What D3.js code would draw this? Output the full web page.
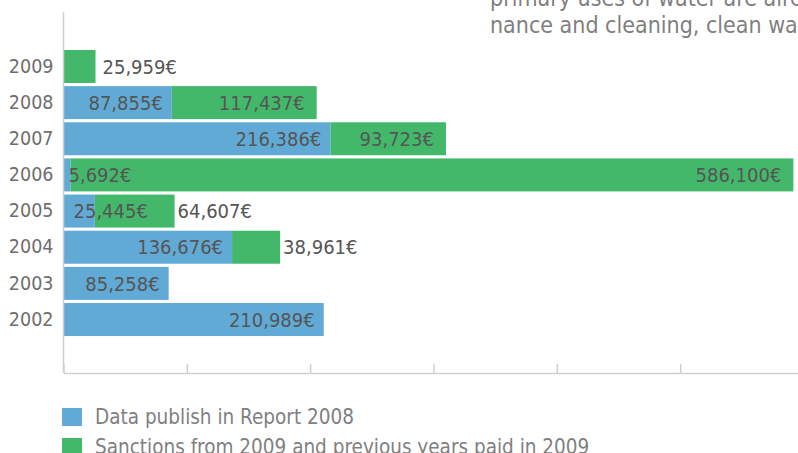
<!DOCTYPE html>
<html>
<head>
<meta charset="utf-8">
<script src="https://cdn.jsdelivr.net/npm/d3@7"></script>
<style>
  html, body { margin: 0; padding: 0; background: #fff; }
  svg { display: block; font-family: "DejaVu Sans Condensed", "DejaVu Sans", sans-serif; }
</style>
</head>
<body>
<svg id="chart" width="798" height="453"></svg>
<script>
// Fines by year (€)
const years = ["2009", "2008", "2007", "2006", "2005", "2004", "2003", "2002"];
const reported = [0, 87855, 216386, 5692, 25445, 136676, 85258, 210989];
const paid2009 = [25959, 117437, 93723, 586100, 64607, 38961, 0, 0];
const seriesNames = ["Data publish in Report 2008", "Sanctions from 2009 and previous years paid in 2009"];
const seriesColors = ["#62aad6", "#43b86b"];
const xTicks = [0, 100000, 200000, 300000, 400000, 500000, 600000];
const introLines = ["primary uses of water are already", "nance and cleaning, clean water"];

const svg = d3.select("#chart");
const fmt = v => d3.format(",")(v) + "€";

const x = d3.scaleLinear().domain([0, 600000]).range([63.5, 803.5]);
const y = d3.scaleBand().domain(years).range([12, 374]).paddingInner(0.087).paddingOuter(1.05);

// Intro paragraph text running above the chart
svg.append("g").selectAll("text").data(introLines).join("text")
  .attr("x", 490).attr("y", (d, i) => 6 + i * 27)
  .attr("font-size", 23).attr("fill", "#7f7f7f")
  .text(d => d);

const rows = years.map((yr, i) => ({ yr, a: reported[i], b: paid2009[i] }));

// Stacked bars
const segs = [];
rows.forEach(r => {
  if (r.a > 0) segs.push({ yr: r.yr, x0: 0, x1: r.a, v: r.a, s: 0 });
  if (r.b > 0) segs.push({ yr: r.yr, x0: r.a, x1: r.a + r.b, v: r.b, s: 1 });
});

svg.append("g").selectAll("rect").data(segs).join("rect")
  .attr("x", d => x(d.x0))
  .attr("y", d => y(d.yr))
  .attr("width", d => x(d.x1) - x(d.x0))
  .attr("height", y.bandwidth())
  .attr("fill", d => seriesColors[d.s]);

// Axes
const axisColor = "#d0d0d0";
const xAxis = svg.append("g")
  .attr("transform", `translate(0,${373})`)
  .call(d3.axisBottom(x).tickValues(xTicks).tickSizeInner(-9).tickSizeOuter(0).tickFormat(""));
xAxis.select(".domain").attr("stroke", axisColor).attr("stroke-width", 1.5);
xAxis.selectAll(".tick line").attr("stroke", axisColor).attr("stroke-width", 1.5);

svg.append("line")
  .attr("x1", x(0)).attr("x2", x(0)).attr("y1", 12).attr("y2", 373)
  .attr("stroke", axisColor).attr("stroke-width", 1.5);

const yAxis = svg.append("g")
  .attr("transform", `translate(${x(0)},0)`)
  .call(d3.axisLeft(y).tickSize(0).tickPadding(10));
yAxis.select(".domain").remove();
yAxis.selectAll("text")
  .attr("font-size", 19.5).attr("fill", "#6e6e6e")
  .attr("font-family", "'DejaVu Sans Condensed', 'DejaVu Sans', sans-serif");

// Value labels: inside the bar end when they fit, otherwise just past it
const labels = svg.append("g").attr("font-size", 20).attr("fill", "#555");
segs.forEach(d => {
  const t = labels.append("text")
    .attr("y", y(d.yr) + y.bandwidth() / 2)
    .attr("dy", "0.36em")
    .text(fmt(d.v));
  const w = t.node().getComputedTextLength();
  const x0 = x(d.x0), x1 = x(d.x1);
  const inset = d.s === 0 ? 9 : 12;
  if (w + inset + 6 <= x1 - x0) {
    t.attr("x", x1 - inset).attr("text-anchor", "end");
  } else if (d.s === 1) {
    t.attr("x", x1 + (x1 - x0 < 40 ? 7 : 3)).attr("text-anchor", "start");
  } else {
    t.attr("x", x0 + 5 + (d.v > 20000 ? 5 : 0)).attr("text-anchor", "start");
  }
});

// Legend
const legend = svg.append("g").selectAll("g").data(seriesNames).join("g")
  .attr("transform", (d, i) => `translate(62,${408 + i * 30})`);
legend.append("rect").attr("width", 20).attr("height", 18).attr("fill", (d, i) => seriesColors[i]);
legend.append("text").attr("x", 33).attr("y", 9).attr("dy", "0.36em")
  .attr("font-size", 20.5).attr("fill", "#7f7f7f").text(d => d);
</script>
</body>
</html>
